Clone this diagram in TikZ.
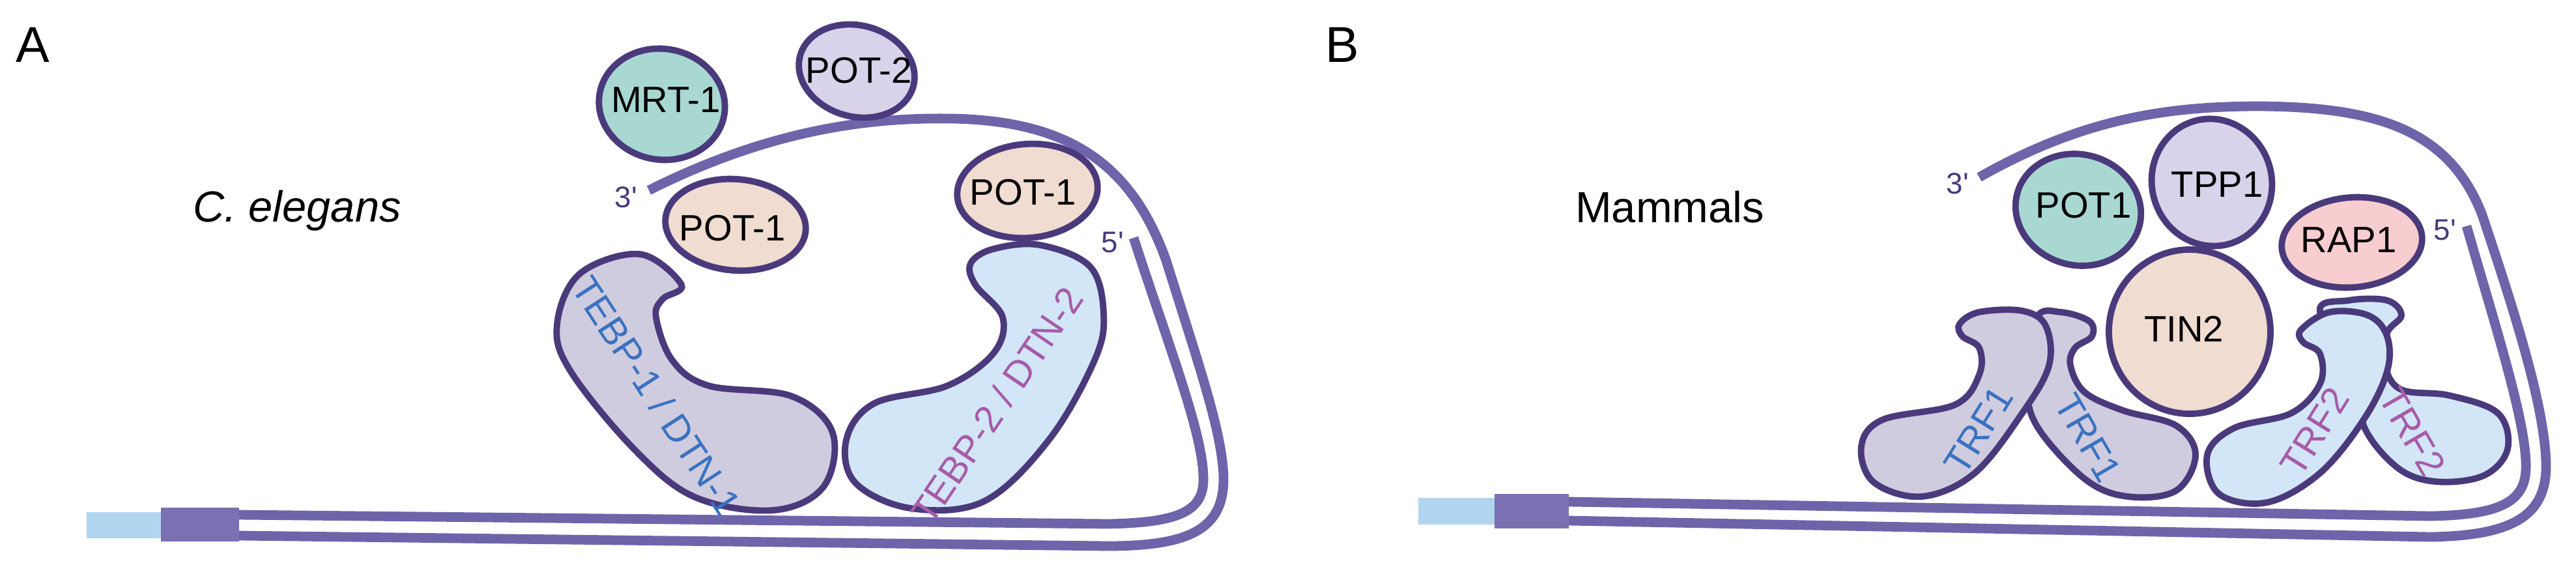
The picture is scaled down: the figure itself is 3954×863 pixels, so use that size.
\documentclass[tikz,border=0pt]{standalone}
\usepackage{fontspec}
\setmainfont{Liberation Sans}
\newfontfamily\primef{Liberation Sans}
\definecolor{outl}{HTML}{4A3A7C}
\definecolor{strand}{HTML}{6E64AA}
\definecolor{teal}{HTML}{A9D8D3}
\definecolor{lav}{HTML}{D8D3EA}
\definecolor{peach}{HTML}{F0DCD0}
\definecolor{greyl}{HTML}{D0CCDF}
\definecolor{lblue}{HTML}{D3E6F7}
\definecolor{pink}{HTML}{F7CDD0}
\definecolor{bluetxt}{HTML}{3A72C0}
\definecolor{magtxt}{HTML}{A65CA8}
\definecolor{rectl}{HTML}{B2D5EF}
\definecolor{rectd}{HTML}{7A70B2}
\tikzset{
  prot/.style={draw=outl, line width=2.8pt},
  dna/.style={draw=strand, line width=4.2pt},
  lab/.style={font=\fontsize{16}{18}\selectfont, text=black},
  rlab/.style={font=\fontsize{16.5}{18}\selectfont},
  endlab/.style={font=\primef\fontsize{13}{15}\selectfont, text=outl},
  big/.style={font=\fontsize{19}{21}\selectfont},
  panel/.style={font=\fontsize{22}{24}\selectfont, anchor=north west}
}
\begin{document}
\begin{tikzpicture}[x=0.01cm, y=-0.01cm]
\useasboundingbox (0,0) rectangle (3954,863);
% ---------- Panel A ----------
\node[panel] (A) at (12,30) {A};
\node[big] (ce) at (456,323) {\itshape C. elegans};
\draw[dna] (996,292) .. controls (1180,200) and (1330,180) .. (1460,182) .. controls (1650,185) and (1740,260) .. (1790,400) .. controls (1840,560) and (1875,660) .. (1878,730) .. controls (1880,810) and (1830,838) .. (1700,838) -- (367,822);
\draw[dna] (1740,365) .. controls (1790,520) and (1845,660) .. (1847,730) .. controls (1850,785) and (1810,802) .. (1700,804) -- (367,790);
\fill[rectl] (133,786) rectangle (247,826);
\fill[rectd] (247,779) rectangle (367,831);
\node[endlab] (a3) at (961,303) {3'};
\node[endlab] (a5) at (1708,372) {5'};
\draw[prot, fill=teal] (1016,160) ellipse [x radius=97, y radius=85, rotate=-10];
\node[lab] (mrt) at (1022,153) {MRT-1};
\draw[prot, fill=lav] (1315,109) ellipse [x radius=90, y radius=70, rotate=-15];
\node[lab] (pot2) at (1318,108) {POT-2};
\draw[prot, fill=peach] (1129,345) ellipse [x radius=108, y radius=70, rotate=-5];
\node[lab] (pot1a) at (1124,350) {POT-1};
\draw[prot, fill=peach] (1577,293) ellipse [x radius=108, y radius=72, rotate=5];
\node[lab] (pot1b) at (1570,295) {POT-1};
\draw[prot, fill=greyl] plot[smooth cycle, tension=0.6] coordinates {(1046,437) (982,390) (890,420) (855,498) (876,570) (975,691) (1067,763) (1187,783) (1264,747) (1278,664) (1215,608) (1088,592) (1032,553) (1007,487) (1017,459)};
\node[rlab, text=bluetxt, rotate=-57] (tebp1) at (1008,607) {TEBP-1 / DTN-1};
\draw[prot, fill=lblue] plot[smooth cycle, tension=0.6] coordinates {(1596,376) (1673,409) (1694,481) (1680,553) (1610,675) (1511,769) (1398,780) (1313,741) (1299,675) (1342,619) (1454,592) (1525,542) (1539,487) (1497,437) (1490,404) (1525,382)};
\node[rlab, text=magtxt, rotate=56] (tebp2) at (1530,622) {TEBP-2 / DTN-2};
% ---------- Panel B ----------
\node[panel] (B) at (2022,30) {B};
\node[big] (mam) at (2563,318) {Mammals};
\draw[dna] (3038,272) .. controls (3200,180) and (3330,164) .. (3460,163) .. controls (3650,163) and (3760,200) .. (3810,330) .. controls (3860,480) and (3905,620) .. (3908,710) .. controls (3910,790) and (3860,822) .. (3730,824) -- (2408,799);
\draw[dna] (3786,347) .. controls (3830,500) and (3875,640) .. (3877,710) .. controls (3880,770) and (3840,790) .. (3730,792) -- (2408,770);
\fill[rectl] (2177,764) rectangle (2294,805);
\fill[rectd] (2294,758) rectangle (2408,811);
\node[endlab] (b3) at (3005,282) {3'};
\node[endlab] (b5) at (3753,353) {5'};
\draw[prot, fill=teal] (3190,322) ellipse [x radius=97, y radius=85, rotate=-15];
\node[lab] (pot1m) at (3198,315) {POT1};
\draw[prot, fill=lav] (3395,280) ellipse [x radius=92, y radius=98, rotate=15];
\node[lab] (tpp1) at (3403,283) {TPP1};
\draw[prot, fill=pink] (3610,372) ellipse [x radius=108, y radius=69, rotate=5];
\node[lab] (rap1) at (3605,368) {RAP1};
\draw[prot, fill=peach] (3361,509) ellipse [x radius=124, y radius=126];
\node[lab] (tin2) at (3352,505) {TIN2};
\draw[prot, fill=greyl] plot[smooth cycle, tension=0.6] coordinates {(3126,488) (3163,479) (3207,493) (3211,516) (3185,534) (3178,561) (3200,602) (3259,630) (3340,653) (3370,698) (3340,753) (3266,762) (3200,735) (3126,653) (3112,584)};
\draw[prot, fill=greyl] plot[smooth cycle, tension=0.6] coordinates {(3008,497) (3038,479) (3104,477) (3140,500) (3145,561) (3104,634) (3031,726) (2950,762) (2876,740) (2857,685) (2890,644) (3001,621) (3038,575) (3038,534) (3012,516)};
\node[rlab, text=bluetxt, rotate=58] (trf1a) at (3037,660) {TRF1};
\node[rlab, text=bluetxt, rotate=-60] (trf1b) at (3205,672) {TRF1};
\draw[prot, fill=lblue] plot[smooth cycle, tension=0.6] coordinates {(3561,479) (3605,461) (3664,461) (3686,484) (3664,511) (3661,561) (3686,598) (3760,607) (3834,634) (3849,689) (3812,730) (3738,739) (3679,717) (3628,653) (3628,584)};
\draw[prot, fill=lblue] plot[smooth cycle, tension=0.6] coordinates {(3532,506) (3576,479) (3635,484) (3664,516) (3664,570) (3628,644) (3561,726) (3480,771) (3406,758) (3388,698) (3429,657) (3517,634) (3561,589) (3561,543) (3535,525)};
\node[rlab, text=magtxt, rotate=58] (trf2a) at (3553,662) {TRF2};
\node[rlab, text=magtxt, rotate=-60] (trf2b) at (3703,662) {TRF2};
\end{tikzpicture}
\end{document}
